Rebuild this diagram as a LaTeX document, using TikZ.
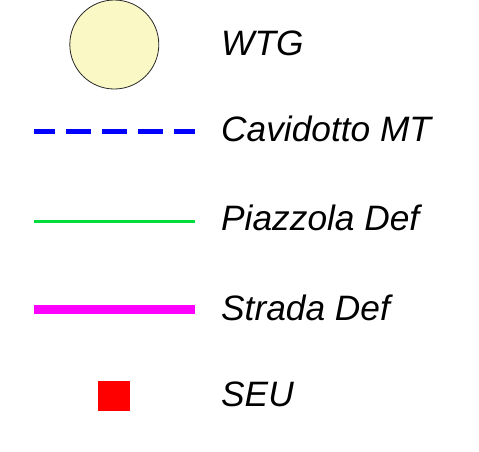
\documentclass[tikz,border=0pt]{standalone}
\usepackage{fontspec}
\setmainfont{Liberation Sans}
\definecolor{wtgfill}{RGB}{250,248,196}
\definecolor{wtgline}{RGB}{40,40,40}
\definecolor{cavblue}{RGB}{0,0,255}
\definecolor{piazgreen}{RGB}{0,220,60}
\definecolor{stradamag}{RGB}{255,0,255}
\definecolor{seured}{RGB}{255,0,0}
\begin{document}
\begin{tikzpicture}[x=1pt,y=1pt,
  lbl/.style={anchor=base west,inner sep=0pt,font=\fontsize{35.3}{40}\selectfont\itshape}]
\useasboundingbox (0,0) rectangle (479,-451);
% WTG
\node[circle,draw=wtgline,fill=wtgfill,line width=0.8pt,minimum size=89pt,inner sep=0pt] (wtg) at (114.3,-44.5) {};
\node[lbl] (twtg) at (221,-55.7) {WTG};
% Cavidotto MT
\coordinate (c1) at (34.3,-131.7);
\coordinate (c2) at (195,-131.7);
\draw[cavblue,line width=5pt,dash pattern=on 25pt off 11pt,dash phase=4pt] (c1) -- (c2);
\node[lbl] (tcav) at (221,-141) {Cavidotto MT};
% Piazzola Def
\coordinate (p1) at (34.3,-221.5);
\coordinate (p2) at (195,-221.5);
\draw[piazgreen,line width=2.6pt] (p1) -- (p2);
\node[lbl] (tpiaz) at (221,-230.7) {Piazzola Def};
% Strada Def
\coordinate (s1) at (34.3,-309.3);
\coordinate (s2) at (195,-309.3);
\draw[stradamag,line width=9pt] (s1) -- (s2);
\node[lbl] (tstr) at (221,-320) {Strada Def};
% SEU
\node[rectangle,fill=seured,minimum width=31.5pt,minimum height=30pt,inner sep=0pt] (seu) at (114.2,-396) {};
\node[lbl] (tseu) at (221,-406) {SEU};
\end{tikzpicture}
\end{document}
